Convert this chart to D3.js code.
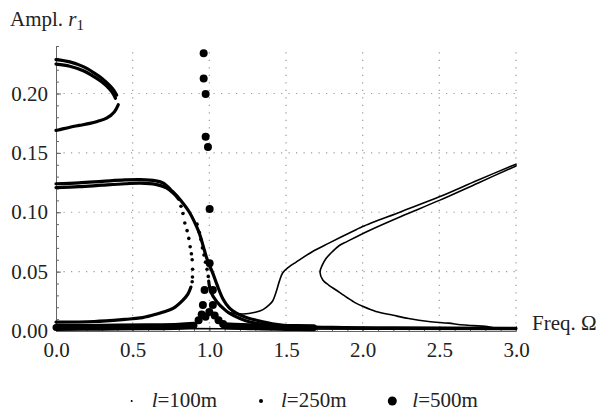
<!DOCTYPE html>
<html>
<head>
<meta charset="utf-8">
<script src="https://d3js.org/d3.v7.min.js"></script>
</head>
<body style="margin:0">
<script>
"use strict";

var FONT = "'Liberation Serif'";

// tick labels
var xTicks = [0, 0.5, 1, 1.5, 2, 2.5, 3];
var yTicks = [0, 0.05, 0.1, 0.15, 0.2];
var legendNames = ["100m", "250m", "500m"];

// l = 100m  (small dots, dense so they read as thin lines) -- [freq, ampl]
var l100Base = [[0, 0.0015], [0.9, 0.002], [1.3, 0.0018], [3.0, 0.0013]];
var l100Rise = [[1.12, 0.0155], [1.22, 0.0143], [1.3, 0.0158], [1.35, 0.018], [1.39, 0.022], [1.414, 0.0255],
  [1.436, 0.033], [1.457, 0.042], [1.479, 0.049], [1.52, 0.054], [1.566, 0.058], [1.674, 0.067],
  [1.78, 0.074], [1.96, 0.0855], [2.0, 0.088], [2.25, 0.1005], [2.5, 0.113], [2.75, 0.127], [3.0, 0.1405]];
var l100Fold = [[3.0, 0.139], [2.75, 0.1245], [2.5, 0.110], [2.25, 0.0965], [2.04, 0.0845], [1.9, 0.0755],
  [1.848, 0.072], [1.8, 0.0665], [1.761, 0.061], [1.735, 0.055], [1.722, 0.0495], [1.74, 0.043],
  [1.78, 0.0385], [1.826, 0.0345], [1.9, 0.028], [1.956, 0.0235], [2.0, 0.0208], [2.086, 0.0165],
  [2.2, 0.0132], [2.3, 0.0105], [2.43, 0.008], [2.56, 0.0066], [2.64, 0.0052], [2.72, 0.0045],
  [2.8, 0.004], [2.86, 0.0025], [3.0, 0.0018]];

// l = 250m  (medium dots)
var l250LoopUpperA = [[0, 0.2285], [0.09, 0.2266], [0.178, 0.2226], [0.25, 0.2172], [0.3, 0.2127],
  [0.351, 0.2066], [0.38, 0.2022], [0.396, 0.1986]];
var l250LoopUpperB = [[0, 0.2248], [0.09, 0.223], [0.178, 0.2192], [0.25, 0.214], [0.3, 0.2096],
  [0.35, 0.2036], [0.375, 0.1993], [0.388, 0.196]];
var l250LoopLower = [[0.406, 0.1905], [0.38, 0.1845], [0.33, 0.1792], [0.27, 0.1765], [0.221, 0.1748],
  [0.15, 0.1731], [0.091, 0.1716], [0.015, 0.1693], [0, 0.1689]];
var l250PlateauUpper = [[0, 0.124], [0.15, 0.1248], [0.3, 0.126], [0.45, 0.1272], [0.55, 0.1275],
  [0.65, 0.1265], [0.7, 0.1245], [0.76, 0.1175], [0.81, 0.1105], [0.87, 0.1], [0.915, 0.0885],
  [0.937, 0.0815], [0.96, 0.0715], [0.98, 0.0625], [1.0, 0.0555], [1.023, 0.0486], [1.05, 0.039],
  [1.089, 0.027], [1.13, 0.0195], [1.176, 0.015], [1.25, 0.011], [1.349, 0.0078], [1.457, 0.0052],
  [1.6, 0.0038], [1.8, 0.003], [2.2, 0.0026], [3.0, 0.0022]];
var l250PlateauLower = [[0, 0.1208], [0.15, 0.1215], [0.3, 0.1228], [0.45, 0.124], [0.55, 0.1245],
  [0.65, 0.1235], [0.72, 0.1205], [0.77, 0.1155], [0.8, 0.111]];
var l250FoldDots = [[0.815, 0.105], [0.828, 0.099], [0.84, 0.091], [0.855, 0.0845], [0.866, 0.078],
  [0.875, 0.071], [0.883, 0.065], [0.888, 0.06], [0.891, 0.052], [0.89, 0.0455], [0.888, 0.0415]];
var l250Lower = [[0.88, 0.037], [0.86, 0.031], [0.828, 0.026], [0.763, 0.019], [0.7, 0.016],
  [0.633, 0.0135], [0.55, 0.011], [0.45, 0.0098], [0.25, 0.008], [0, 0.0075]];
var l250MidDots = [[0.92, 0.09], [0.935, 0.083], [0.945, 0.077], [0.955, 0.07], [0.965, 0.064],
  [0.975, 0.058], [0.985, 0.052], [0.993, 0.046]];
var l250MidTail = [[0.996, 0.042], [1.01, 0.033], [1.05, 0.0245], [1.1, 0.018], [1.13, 0.015],
  [1.2, 0.0105], [1.26, 0.0078], [1.4, 0.005], [1.6, 0.0035]];

// l = 500m  (large dots)
var l500Dots = [[0.963, 0.234], [0.963, 0.2127], [0.976, 0.1995], [0.976, 0.1636], [0.991, 0.155],
  [1.002, 0.1027], [1.002, 0.057], [0.969, 0.0345], [1.023, 0.0345], [0.958, 0.022], [1.023, 0.022],
  [0.93, 0.009], [0.95, 0.014], [0.975, 0.012], [1.0, 0.016], [1.035, 0.013], [1.06, 0.009], [1.09, 0.006]];
var l500Base = [[0, 0.003], [0.3, 0.0032], [0.6, 0.0035], [0.8, 0.004], [0.9, 0.0048]];
var l500Base2 = [[1.1, 0.0045], [1.3, 0.0035], [1.5, 0.003], [1.68, 0.0028]];

var series = [
  { lines: [l100Base, l100Rise, l100Fold], dots: [], lw: 1.6, r: 0.9 },
  { lines: [l250LoopUpperA, l250LoopUpperB, l250LoopLower, l250PlateauUpper, l250PlateauLower, l250Lower, l250MidTail],
    dots: l250FoldDots.concat(l250MidDots), lw: 3.2, r: 1.8 },
  { lines: [l500Base, l500Base2], dots: l500Dots, lw: 7, r: 4 }
];

var W = 608, H = 416;
var x = d3.scaleLinear().domain([0, 3]).range([56, 516]);
var y = d3.scaleLinear().domain([0, 0.24]).range([331, 46]);

var svg = d3.select("body").append("svg").attr("width", W).attr("height", H).style("display", "block");

//Grid
var grid = svg.append("g").attr("stroke", "#9a9a9a").attr("stroke-width", 1.2).attr("stroke-dasharray", "1.2,6.3");
grid.selectAll(".gx").data(xTicks.slice(1)).enter().append("line")
  .attr("x1", function (d) { return x(d); }).attr("x2", function (d) { return x(d); })
  .attr("y1", y(0)).attr("y2", y(0.24));
grid.selectAll(".gy").data(yTicks.slice(1)).enter().append("line")
  .attr("y1", function (d) { return y(d); }).attr("y2", function (d) { return y(d); })
  .attr("x1", x(0)).attr("x2", x(3));

//Axes
var xAxis = d3.axisBottom(x).tickValues(xTicks).tickFormat(d3.format(".1f")).tickSizeInner(-5).tickSizeOuter(0).tickPadding(11);
var yAxis = d3.axisLeft(y).tickValues(yTicks).tickFormat(d3.format(".2f")).tickSizeInner(-5).tickSizeOuter(0).tickPadding(8);
var xMinor = d3.axisBottom(x).tickValues(d3.range(0, 3.001, 0.1)).tickFormat("").tickSizeInner(-3).tickSizeOuter(0);
var yMinor = d3.axisLeft(y).tickValues(d3.range(0, 0.2401, 0.01)).tickFormat("").tickSizeInner(-3).tickSizeOuter(0);

function styleAxis(g) {
  g.attr("font-family", FONT).attr("font-size", 21);
  g.select(".domain").attr("stroke", "#666");
  g.selectAll(".tick line").attr("stroke", "#666");
  g.selectAll(".tick text").attr("fill", "#222");
}
svg.append("g").attr("transform", "translate(0," + y(0) + ")").call(xMinor).call(styleAxis);
svg.append("g").attr("transform", "translate(" + x(0) + ",0)").call(yMinor).call(styleAxis);
svg.append("g").attr("transform", "translate(0," + y(0) + ")").call(xAxis).call(styleAxis);
svg.append("g").attr("transform", "translate(" + x(0) + ",0)").call(yAxis).call(styleAxis);

//Data
var line = d3.line().x(function (d) { return x(d[0]); }).y(function (d) { return y(d[1]); })
  .curve(d3.curveCatmullRom.alpha(0.5));
var plot = svg.append("g");
series.forEach(function (s) {
  plot.selectAll(null).data(s.lines).enter().append("path")
    .attr("d", line).attr("fill", "none").attr("stroke", "#000")
    .attr("stroke-width", s.lw).attr("stroke-linecap", "round").attr("stroke-linejoin", "round");
  plot.selectAll(null).data(s.dots).enter().append("circle")
    .attr("cx", function (d) { return x(d[0]); }).attr("cy", function (d) { return y(d[1]); })
    .attr("r", s.r).attr("fill", "#000");
});

//Axis titles
var yt = svg.append("text").attr("x", 10).attr("y", 26).attr("fill", "#222");
yt.append("tspan").text("Ampl. ");
yt.append("tspan").attr("font-style", "italic").text("r");
yt.append("tspan").attr("dy", 4).attr("class", "sub").text("1");

svg.append("text").attr("x", 532).attr("y", 330).attr("fill", "#222").text("Freq. Ω");

//Legend
var legendX = [131.7, 261, 392.3];
var legendR = [1, 2, 4.5];
var legend = svg.append("g").attr("id", "legend");
legendNames.forEach(function (name, i) {
  legend.append("circle").attr("cx", legendX[i]).attr("cy", 401).attr("r", legendR[i]).attr("fill", "#000");
  var t = legend.append("text").attr("x", legendX[i] + 20).attr("y", 407).attr("fill", "#222");
  t.append("tspan").attr("font-style", "italic").text("l");
  t.append("tspan").text("=" + name);
});

// every text gets its font inline
svg.selectAll("text").attr("font-family", FONT).attr("font-size", 21)
  .style("font-family", FONT).style("font-size", "21px");
svg.selectAll("tspan.sub").attr("font-size", 15).style("font-size", "15px");
</script>
</body>
</html>
